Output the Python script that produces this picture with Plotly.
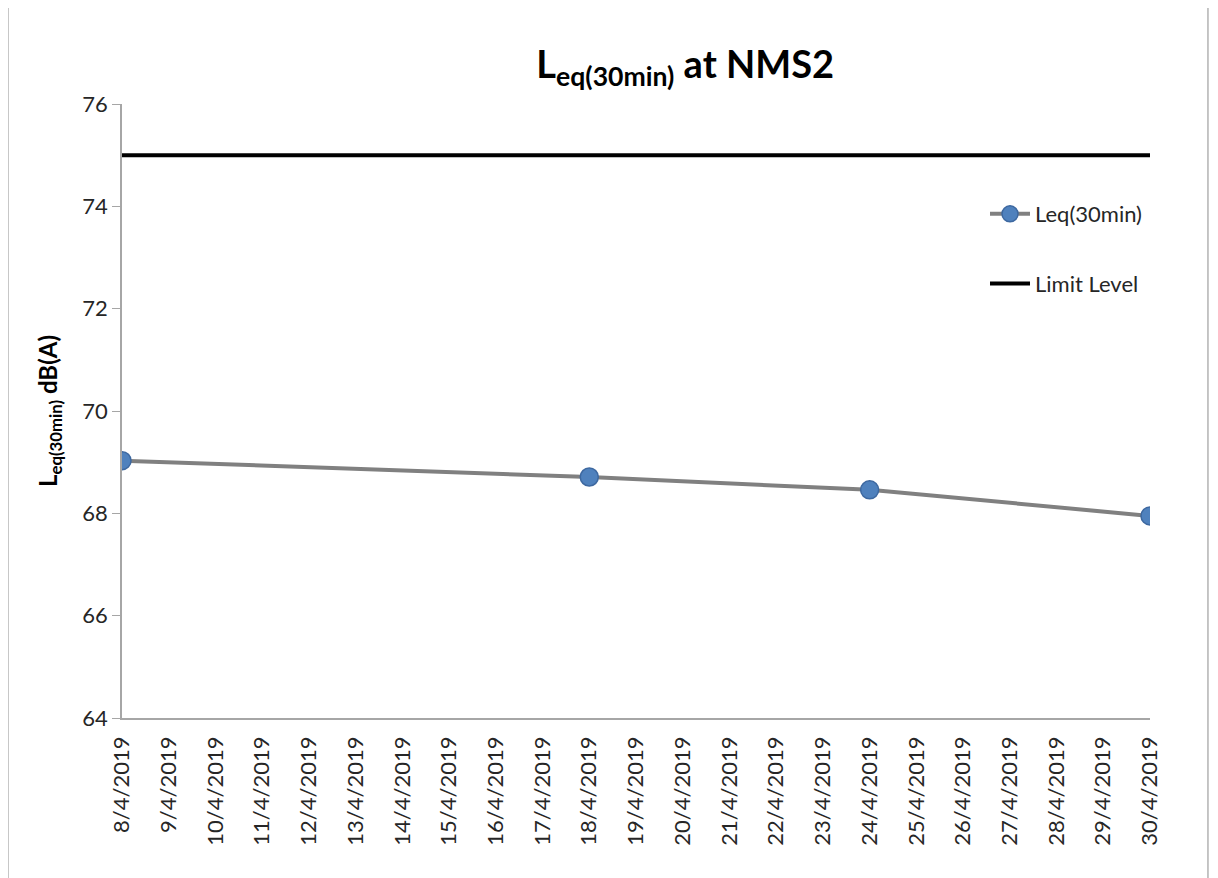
import plotly.graph_objects as go

# Data
leq_dates = ["2019-04-08", "2019-04-18", "2019-04-24", "2019-04-30"]
leq_values = [69.03, 68.71, 68.46, 67.95]
limit_dates = ["2019-04-08", "2019-04-30"]
limit_values = [75, 75]

FONT = "Lato"
TXT = "#262626"

fig = go.Figure()
fig.add_trace(go.Scatter(
    x=leq_dates, y=leq_values, mode="lines+markers", name="Leq(30min)",
    legendgroup="a",
    line=dict(color="#808080", width=4),
    marker=dict(size=18, color="#4F81BD", line=dict(color="#3d68a0", width=1.5)),
))
fig.add_trace(go.Scatter(
    x=limit_dates, y=limit_values, mode="lines", name="Limit Level",
    legendgroup="b",
    line=dict(color="#000000", width=4),
))

fig.update_layout(
    width=1218, height=878,
    margin=dict(l=114, r=76, t=96, b=168),
    paper_bgcolor="white", plot_bgcolor="white",
    font=dict(family=FONT, color=TXT, size=22),
    title=dict(text="<b>L<sub>eq(30min)</sub> at NMS2</b>", x=0.556, xanchor="center",
               y=0.935, yanchor="middle", font=dict(size=38, family=FONT, color="#000000")),
    showlegend=True,
    legend=dict(x=0.8395, xanchor="left", y=0.855, yanchor="top",
                bgcolor="rgba(0,0,0,0)", font=dict(size=22, family=FONT, color=TXT),
                tracegroupgap=38, itemwidth=40),
    shapes=[dict(type="rect", xref="paper", yref="paper",
                 x0=-0.1109, x1=1.0564, y0=-0.30, y1=1.158,
                 line=dict(color="#8c8c8c", width=1), fillcolor="rgba(0,0,0,0)", layer="below")],
)

fig.update_xaxes(
    type="date", range=["2019-04-08", "2019-04-30"],
    dtick=86400000, tick0="2019-04-08", tickformat="%-d/%-m/%Y",
    tickangle=-90, showgrid=False, zeroline=False,
    showline=True, linecolor="#a6a6a6", linewidth=1.5,
    ticks="", ticklabelstandoff=8, tickfont=dict(size=22, family=FONT, color=TXT),
)
fig.update_yaxes(
    range=[64, 76], dtick=2, showgrid=False, zeroline=False,
    showline=True, linecolor="#a6a6a6", linewidth=1.5,
    ticks="outside", ticklen=8, tickcolor="#a6a6a6",
    tickfont=dict(size=22, family=FONT, color=TXT),
    title=dict(text="<b>L<sub>eq(30min)</sub> dB(A)</b>", font=dict(size=24, family=FONT, color="#000000"), standoff=18),
)

fig.write_html("out.html")
